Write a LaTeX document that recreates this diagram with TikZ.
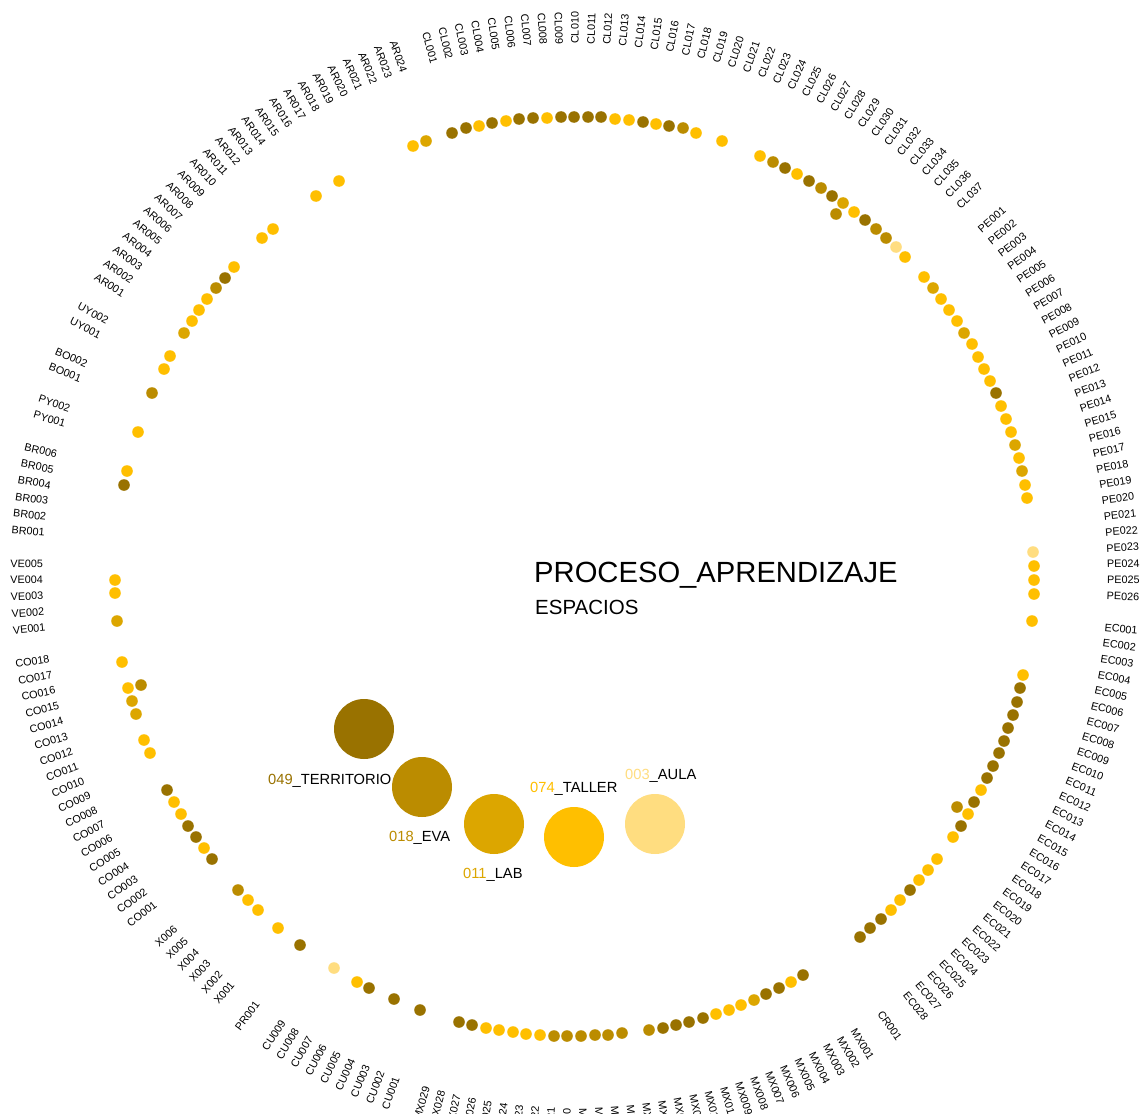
\documentclass[tikz,border=0pt]{standalone}
\usepackage{tikz}
\usepackage{xcolor}
\usepackage{fontspec}
\setmainfont{Liberation Sans}

\definecolor{terr}{HTML}{997200}
\definecolor{eva}{HTML}{BB8C00}
\definecolor{lab}{HTML}{DCA600}
\definecolor{taller}{HTML}{FFBF00}
\definecolor{aula}{HTML}{FFDD80}

\tikzset{
  lbl/.style={inner sep=0pt, font=\fontsize{10.8}{12}\selectfont},
  leg/.style={inner sep=0pt, font=\fontsize{14.7}{16}\selectfont},
}

\begin{document}
\begin{tikzpicture}[x=1pt,y=1pt]
    \useasboundingbox (0,0) rectangle (1145,-1113);
    \clip (0,0) rectangle (1145,-1113);
    \fill[white] (0,0) rectangle (1145,-1113);

    %% ring of codes, one slot per code and one empty slot between countries
    \begin{scope}[shift={(575,-576)}]
    \foreach \grp/\n/\s in {CL/37/0, PE/26/38, EC/28/65, CR/1/94, MX/29/96, CU/9/126,
        PR/1/136, X/6/138, CO/18/145, VE/5/164, BR/6/170, PY/2/177, BO/2/180,
        UY/2/183, AR/24/186}{
      \foreach \k in {1,...,\n}{
        \pgfmathtruncatemacro\slot{\s+\k-1}
        \pgfmathsetmacro\ang{90+(9-\slot)*(360/211)}
        \ifnum\slot<9
          \node[lbl, anchor=east, rotate=\ang+180] (\grp\k) at (\ang:532) {\grp0\ifnum\k<10 0\fi\k};
        \else\ifnum\slot>114
          \node[lbl, anchor=east, rotate=\ang+180] (\grp\k) at (\ang:532) {\grp0\ifnum\k<10 0\fi\k};
        \else
          \node[lbl, anchor=west, rotate=\ang] (\grp\k) at (\ang:532) {\grp0\ifnum\k<10 0\fi\k};
        \fi\fi
      }
    }
    \end{scope}

    %% dots, one per record
    \foreach \x/\y/\c in {452/133/terr, 466/128/terr, 479/126/taller, 492/123/terr,
        506/121/taller, 519/119/terr, 533/118/terr, 547/118/taller, 561/117/terr,
        574/117/terr, 588/117/terr, 601/117/terr, 615/119/taller, 629/120/taller,
        643/122/terr, 656/124/taller, 669/126/terr, 683/128/eva, 696/133/taller,
        722/141/taller, 760/156/taller, 773/162/eva, 785/168/terr, 797/174/taller,
        809/181/terr, 821/188/eva, 832/196/terr, 843/203/lab, 836/214/eva,
        854/212/taller, 865/220/terr, 876/229/eva, 886/238/eva, 896/247/aula,
        905/257/taller, 924/277/taller, 933/288/lab, 941/299/taller, 949/310/taller,
        957/321/taller, 964/333/lab, 972/344/taller, 978/357/taller, 984/369/taller,
        990/381/taller, 996/393/terr, 1001/406/taller, 1006/419/taller, 1011/432/taller,
        1015/445/lab, 1019/458/taller, 1022/471/lab, 1025/485/taller, 1027/498/taller,
        1033/552/aula, 1034/566/taller, 1034/580/taller, 1034/594/taller, 1032/621/taller,
        1023/675/taller, 1020/688/terr, 1017/702/terr, 1013/715/terr, 1008/728/terr,
        1004/741/terr, 999/753/terr, 993/766/terr, 987/778/terr, 981/790/taller,
        974/802/terr, 957/807/eva, 968/814/taller, 961/826/terr, 953/837/taller,
        937/859/taller, 928/870/taller, 919/880/taller, 910/890/terr, 900/900/taller,
        891/910/taller, 881/919/terr, 870/928/terr, 860/937/terr,
        803/975/terr, 791/982/taller, 779/988/terr, 766/994/terr, 754/1000/lab,
        741/1005/taller, 729/1010/taller, 716/1014/taller, 703/1018/terr, 689/1022/terr,
        676/1025/terr, 663/1028/terr, 649/1030/eva, 622/1033/eva, 608/1035/eva,
        595/1035/eva, 581/1036/eva, 567/1036/eva, 554/1036/eva, 540/1035/taller,
        526/1034/taller, 513/1032/taller, 499/1030/taller, 486/1028/taller, 472/1025/terr,
        459/1022/terr, 420/1010/terr, 394/999/terr, 369/988/terr, 357/982/taller,
        334/968/aula, 300/945/terr, 278/928/taller, 258/910/taller, 248/900/taller,
        238/890/eva, 212/859/terr, 204/848/taller, 196/837/terr, 188/826/terr,
        181/814/taller, 174/802/taller, 167/790/terr, 150/753/taller, 144/740/taller,
        136/714/lab, 132/701/lab, 128/688/taller, 141/685/eva, 122/662/taller,
        117/621/lab, 115/593/taller, 115/580/taller, 124/485/terr, 127/471/taller,
        138/432/taller, 152/393/eva, 164/369/taller, 170/356/taller, 184/333/lab,
        192/321/taller, 199/310/taller, 207/299/taller, 216/288/eva, 225/278/terr,
        234/267/taller, 262/238/taller, 273/229/taller, 316/196/taller, 339/181/taller,
        413/146/taller, 426/141/lab}
      \fill[\c] (\x,-\y) circle (5.8);

    %% title
    \node[inner sep=0pt, anchor=base west, font=\fontsize{29.2}{32}\selectfont] (title) at (534,-582) {PROCESO\_APRENDIZAJE};
    \node[inner sep=0pt, anchor=base west, font=\fontsize{20.5}{22}\selectfont] (subtitle) at (535,-614) {ESPACIOS};

    %% legend
    \fill[terr] (364,-729) circle (30);
    \fill[eva] (422,-787) circle (30);
    \fill[lab] (494,-824) circle (30);
    \fill[taller] (574,-837) circle (30);
    \fill[aula] (655,-824) circle (30);
    \node[leg, anchor=base west] (lterr) at (268,-784) {\textcolor{terr}{049}\_TERRITORIO};
    \node[leg, anchor=base west] (leva) at (389,-841) {\textcolor{eva}{018}\_EVA};
    \node[leg, anchor=base west] (llab) at (463,-878) {\textcolor{lab}{011}\_LAB};
    \node[leg, anchor=base west] (ltaller) at (530,-792) {\textcolor{taller}{074}\_TALLER};
    \node[leg, anchor=base west] (laula) at (625,-779) {\textcolor{aula}{003}\_AULA};

\end{tikzpicture}
\end{document}
